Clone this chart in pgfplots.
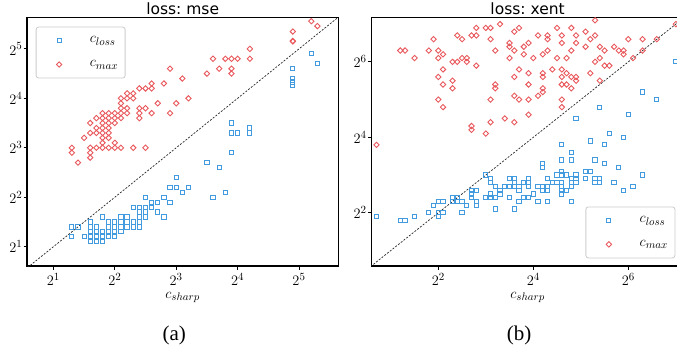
\documentclass[border=0pt]{standalone}
\usepackage{pgfplots}
\pgfplotsset{compat=1.18}
\usepackage{fontspec}
\setmainfont{DejaVu Sans}
\newfontfamily\capfont{Liberation Serif}
\definecolor{cblue}{RGB}{65,155,222}
\definecolor{cred}{RGB}{232,88,92}
\pgfplotsset{
  common/.style={
    scale only axis, anchor=south west,
    tick pos=left, tick align=outside, major tick length=3.5pt,
    axis line style={line width=1.2pt},
    every tick/.style={black, line width=0.9pt},
    tick label style={font=\fontsize{15.5}{18}\selectfont},
    yticklabel style={inner sep=0pt, xshift=-1pt},
    label style={font=\fontsize{15.5}{18}\selectfont},
    xlabel style={at={(axis description cs:0.5,0)}, anchor=base, yshift=-32.3pt, inner sep=0pt},
    title style={at={(0.5,1)}, anchor=base, yshift=-2.3pt, inner sep=0pt, font=\fontsize{15.5}{18}\selectfont},
    xlabel={$c_{sharp}$},
    legend cell align=left,
    legend style={draw=black!20, line width=0.8pt, rounded corners=2.5pt, fill=white,
      inner xsep=7pt, inner ysep=1.5pt, column sep=0pt,
      nodes={inner sep=0pt, minimum height=24pt, font=\fontsize{15.5}{18}\selectfont}},
  },
  bluemk/.style={only marks, color=cblue, mark=square, mark size=2.1pt,
    mark options={solid, line width=1pt, fill=none},
    legend image code/.code={\path (0pt,0pt) (46pt,0pt); \draw[##1] plot coordinates {(15.6pt,0pt)};}},
  redmk/.style={only marks, color=cred, mark=square, mark size=1.9pt,
    mark options={solid, line width=0.9pt, fill=none, rotate=45},
    legend image code/.code={\path (0pt,0pt) (46pt,0pt); \draw[##1] plot coordinates {(15.6pt,0pt)};}},
  diag/.style={forget plot, black!85, line width=0.7pt, dash pattern=on 2pt off 1.5pt},
}
\begin{document}
\begin{tikzpicture}
\useasboundingbox (0,0) rectangle (677pt,354pt);
% ---------------- panel (a)
\begin{axis}[common,
  at={(27pt,88pt)}, width=311.3pt, height=248.3pt,
  xmin=0.57, xmax=5.64, ymin=0.61, ymax=5.63,
  xtick={1,2,3,4,5}, xticklabels={$2^{1}$,$2^{2}$,$2^{3}$,$2^{4}$,$2^{5}$},
  ytick={1,2,3,4,5}, yticklabels={$2^{1}$,$2^{2}$,$2^{3}$,$2^{4}$,$2^{5}$},
  title={loss:\ mse},
  legend style={at={(0.028,0.964)}, anchor=north west},
]
\addplot[diag] coordinates {(0,0) (8,8)};
\addplot[bluemk] table {
x y
1.3 1.4
1.4 1.4
1.3 1.2
1.5 1.2
1.6 1.5
1.6 1.4
1.6 1.3
1.6 1.2
1.6 1.1
1.7 1.4
1.7 1.3
1.7 1.2
1.7 1.1
1.8 1.6
1.8 1.3
1.8 1.2
1.8 1.1
1.9 1.5
1.9 1.4
1.9 1.3
1.9 1.2
2.0 1.5
2.0 1.4
2.0 1.3
2.0 1.2
2.1 1.6
2.1 1.5
2.1 1.4
2.1 1.3
2.2 1.6
2.2 1.5
2.2 1.4
2.3 1.8
2.3 1.5
2.3 1.4
2.4 1.8
2.4 1.7
2.4 1.6
2.4 1.5
2.4 1.4
2.5 2.0
2.5 1.8
2.5 1.7
2.5 1.6
2.6 1.9
2.6 1.8
2.7 1.9
2.7 1.7
2.8 2.0
2.8 1.6
2.9 2.2
2.9 1.9
3.0 2.4
3.0 2.2
3.1 2.1
3.2 2.2
3.5 2.7
3.6 2.0
3.7 2.6
3.8 2.1
3.9 2.9
3.9 3.5
3.9 3.3
4.0 3.3
4.2 3.4
4.2 3.3
4.9 4.6
4.9 4.4
4.9 4.33
4.9 4.27
5.2 4.9
5.3 4.7
};
\addlegendentry{$c_{loss}$}
\addplot[redmk] table {
x y
1.3 3.0
1.3 2.9
1.4 2.7
1.5 3.2
1.6 3.5
1.6 3.3
1.6 3.0
1.6 2.9
1.6 2.8
1.7 3.6
1.7 3.4
1.7 3.3
1.7 3.0
1.8 3.7
1.8 3.6
1.8 3.5
1.8 3.4
1.8 3.3
1.8 3.2
1.8 3.1
1.8 3.0
1.9 3.7
1.9 3.6
1.9 3.5
1.9 3.4
1.9 3.3
1.9 3.2
1.9 3.0
2.0 3.7
2.0 3.6
2.0 3.5
2.0 3.1
2.0 3.0
2.1 4.0
2.1 3.9
2.1 3.8
2.1 3.7
2.1 3.6
2.1 3.0
2.2 4.1
2.2 4.0
2.2 3.8
2.2 3.7
2.3 4.1
2.3 4.0
2.3 3.0
2.4 4.2
2.4 3.8
2.4 3.7
2.4 3.6
2.5 4.2
2.5 3.8
2.5 3.0
2.6 4.3
2.6 4.2
2.6 3.7
2.7 3.9
2.8 4.3
2.9 4.6
2.9 3.7
3.0 3.9
3.1 4.4
3.2 4.0
3.5 4.5
3.6 4.8
3.7 4.6
3.8 4.8
3.9 4.8
3.9 4.6
3.9 4.5
4.0 4.8
4.2 5.0
4.2 4.8
4.9 5.35
4.9 5.16
4.9 5.15
5.2 5.56
5.3 5.46
};
\addlegendentry{$c_{max}$}
\end{axis}
% ---------------- panel (b)
\begin{axis}[common,
  at={(371.3pt,88pt)}, width=312.6pt, height=248.3pt,
  xmin=0.59, xmax=7.17, ymin=0.59, ymax=7.17,
  xtick={2,4,6}, xticklabels={$2^{2}$,$2^{4}$,$2^{6}$},
  ytick={2,4,6}, yticklabels={$2^{2}$,$2^{4}$,$2^{6}$},
  title={loss:\ xent},
  legend style={at={(0.9725,0.031)}, anchor=south east},
]
\addplot[diag] coordinates {(0,0) (8,8)};
\addplot[bluemk] table {
x y
0.7 1.9
1.2 1.8
1.3 1.8
1.5 1.9
1.8 2.0
1.9 2.2
2.0 2.3
2.0 2.0
2.0 1.9
2.1 2.3
2.1 2.0
2.3 2.4
2.3 2.3
2.4 2.4
2.4 2.3
2.5 2.3
2.5 2.0
2.6 2.2
2.7 2.6
2.7 2.5
2.7 2.4
2.8 2.6
2.8 2.3
2.8 2.2
3.0 3.0
3.0 2.4
3.1 2.9
3.1 2.8
3.1 2.5
3.1 2.4
3.2 2.7
3.2 2.4
3.2 2.1
3.3 2.6
3.3 2.5
3.4 2.7
3.5 2.9
3.5 2.7
3.5 2.4
3.6 2.9
3.6 2.8
3.6 2.7
3.6 2.1
3.7 2.7
3.7 2.6
3.7 2.3
3.8 2.8
3.8 2.4
3.9 2.9
3.9 2.8
3.9 2.7
3.9 2.4
4.0 2.5
4.1 2.7
4.1 2.3
4.2 3.3
4.2 3.2
4.2 2.7
4.2 2.6
4.3 2.9
4.3 2.7
4.3 2.6
4.3 2.3
4.4 2.8
4.5 3.0
4.5 2.8
4.6 3.8
4.6 3.4
4.6 3.1
4.6 3.0
4.6 2.8
4.6 2.7
4.6 2.6
4.6 2.5
4.7 3.0
4.7 2.6
4.8 3.6
4.8 3.4
4.8 2.9
4.8 2.8
4.8 2.7
4.8 2.3
4.9 3.0
4.9 2.9
4.9 2.8
4.9 4.5
5.1 3.1
5.1 2.9
5.2 3.9
5.2 3.1
5.3 3.4
5.3 2.9
5.3 2.8
5.4 2.9
5.4 2.8
5.4 4.8
5.5 3.8
5.5 3.3
5.6 4.1
5.7 2.8
5.8 3.2
5.9 2.6
5.9 4.0
6.0 4.6
6.1 2.7
6.3 3.0
6.3 5.2
6.6 5.0
7.0 6.0
};
\addlegendentry{$c_{loss}$}
\addplot[redmk] table {
x y
0.7 3.8
1.2 6.3
1.3 6.3
1.5 6.1
1.8 6.3
1.9 6.6
2.0 6.3
2.0 6.1
2.1 6.2
2.1 5.8
2.0 5.6
2.1 5.4
2.0 5.0
2.1 4.8
2.3 6.0
2.4 6.0
2.5 6.1
2.6 6.1
2.6 6.0
2.3 5.5
2.3 5.3
2.4 6.7
2.5 6.6
2.7 6.7
2.8 6.7
2.8 6.9
3.0 6.9
3.1 6.9
3.3 7.0
2.8 5.9
3.1 6.6
3.2 6.3
2.7 4.3
2.7 4.2
3.0 4.1
3.1 4.4
3.4 4.5
3.6 4.4
3.1 5.0
3.2 5.4
3.2 5.3
3.5 6.5
3.5 6.4
3.6 6.3
3.6 6.8
3.7 6.9
3.5 6.1
3.7 5.8
3.6 5.6
3.6 5.1
3.7 5.0
3.8 6.4
3.8 6.2
3.9 6.5
3.9 5.7
3.9 5.4
3.9 5.0
3.9 4.6
4.0 6.1
4.1 6.7
4.1 5.1
4.2 6.2
4.2 5.7
4.2 5.6
4.2 5.3
4.2 5.2
4.3 6.7
4.3 6.6
4.3 6.3
4.4 5.8
4.5 6.9
4.5 6.1
4.6 6.7
4.6 6.5
4.6 5.8
4.6 5.6
4.6 5.4
4.6 5.0
4.6 4.8
4.7 6.1
4.7 5.7
4.7 5.4
4.8 6.9
4.8 6.3
4.8 5.6
4.8 5.3
4.9 6.7
4.9 6.5
4.9 5.6
4.9 5.5
5.1 6.8
5.1 6.4
5.2 6.6
5.2 5.7
5.3 7.1
5.3 6.7
5.3 6.0
5.4 6.4
5.4 6.1
5.4 5.5
5.5 6.3
5.5 5.9
5.6 5.9
5.7 6.4
5.8 6.3
5.9 6.3
5.9 6.2
6.0 6.6
6.1 6.1
6.3 6.6
6.3 6.3
6.6 6.6
7.0 7.0
};
\addlegendentry{$c_{max}$}
\end{axis}
\node[font=\capfont\fontsize{21}{24}\selectfont, anchor=base, inner sep=0pt] at (174.2pt,14pt) {(a)};
\node[font=\capfont\fontsize{21}{24}\selectfont, anchor=base, inner sep=0pt] at (519pt,14pt) {(b)};
\end{tikzpicture}
\end{document}
